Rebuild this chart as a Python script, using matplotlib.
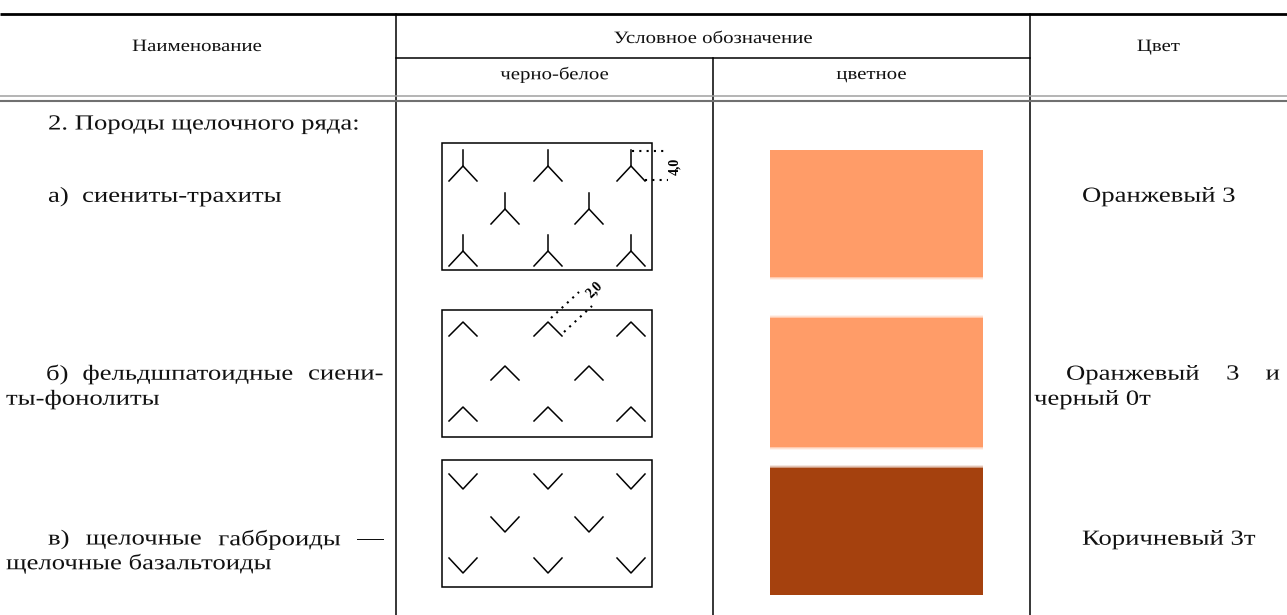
import matplotlib
matplotlib.use("Agg")
import matplotlib.pyplot as plt
from matplotlib.patches import Rectangle
from matplotlib.patheffects import AbstractPathEffect
from matplotlib.transforms import Affine2D

plt.rcParams['font.family'] = ['Liberation Serif', 'DejaVu Serif']

# ---- table content ----
header_name = "Наименование"
header_symbol = "Условное обозначение"
header_bw = "черно-белое"
header_color = "цветное"
header_colour_name = "Цвет"

section_title = "2. Породы щелочного ряда:"
row_names = [
    [["а)  сиениты-трахиты"]],
    [["б)", "фельдшпатоидные", "сиени-"], ["ты-фонолиты"]],
    [["в)", "щелочные", "габброиды", "—"], ["щелочные базальтоиды"]],
]
row_color_names = [
    [["Оранжевый 3"]],
    [["Оранжевый", "3", "и"], ["черный 0т"]],
    [["Коричневый 3т"]],
]
row_fill = ["#FF9C68", "#FF9C68", "#A5410E"]
row_pattern = ["Y", "^", "v"]
dimension_labels = ["4,0", "2,0", None]

# pattern grid (offsets inside a symbol box)
pattern_cols_outer = [21, 106, 189]
pattern_cols_inner = [63, 147]
pattern_row_offsets = {"Y": [23, 66, 108], "^": [12, 56, 97], "v": [14, 57, 98]}

# ---- layout ----
W, H = 1287, 615
fig = plt.figure(figsize=(W / 100, H / 100), dpi=100)
ax = fig.add_axes([0, 0, 1, 1])
ax.set_xlim(0, W)
ax.set_ylim(H, 0)
ax.axis('off')
renderer = fig.canvas.get_renderer()

x_col1, x_col2, x_col3 = 396, 713, 1030
y_top, y_sub, y_dbl1, y_dbl2 = 14, 58, 96, 101
box_left, box_w, box_h = 442, 210, 127
box_tops = [143, 310, 460]
rect_left, rect_w = 770, 213
rect_tops = [150, 318, 468]
rect_hs = [127, 129, 127]
row_text_y = [[197], [375, 400], [540, 564]]
name_x = [[48], [46, 6], [48, 6]]
name_right = [None, 384, 384]
color_x = [[1082], [1066, 1034], [1082]]
color_right = [None, 1280, None]

fs_head, sx_head = 12.5, 1.2
fs_body, sx_body = 15.5, 1.24
tc = '#111111'


class HStretch(AbstractPathEffect):
    """Widen glyphs horizontally about a fixed anchor (scan is wider than tall)."""

    def __init__(self, sx, x_anchor):
        super().__init__()
        self.sx = sx
        self.xa = x_anchor

    def draw_path(self, rend, gc, tpath, affine, rgbFace=None):
        t = affine + Affine2D().translate(-self.xa, 0).scale(self.sx, 1).translate(self.xa, 0)
        rend.draw_path(gc, tpath, t, rgbFace)


def put(x, y, s, size, sx, ha='left'):
    t = ax.text(x, y, s, fontsize=size, ha=ha, va='center', color=tc)
    xa = ax.transData.transform((x, y))[0]
    t.set_path_effects([HStretch(sx, xa)])
    return t


def width_of(s, size, sx):
    t = ax.text(0, 0, s, fontsize=size)
    bb = t.get_window_extent(renderer)
    t.remove()
    return bb.width * sx  # pixels == data units here


ax.plot([0, W], [y_top, y_top], color='black', lw=2.0, solid_capstyle='butt')
ax.plot([x_col1, x_col3], [y_sub, y_sub], color='black', lw=1.1)
ax.plot([x_col1, x_col1], [y_top, H], color='black', lw=1.1)
ax.plot([x_col2, x_col2], [y_sub, H], color='black', lw=1.1)
ax.plot([x_col3, x_col3], [y_top, H], color='black', lw=1.1)
ax.plot([0, W], [y_dbl1, y_dbl1], color='#a0a0a0', lw=1.1)
ax.plot([0, W], [y_dbl2, y_dbl2], color='#707070', lw=1.5)

put(197, 47, header_name, fs_head, sx_head, 'center')
put((x_col1 + x_col3) / 2, 39, header_symbol, fs_head, sx_head, 'center')
put((x_col1 + x_col2) / 2, 75, header_bw, fs_head, sx_head, 'center')
put((x_col2 + x_col3) / 2, 75, header_color, fs_head, sx_head, 'center')
put((x_col3 + W) / 2, 47, header_colour_name, fs_head, sx_head, 'center')

put(48, 125, section_title, fs_body, sx_body)


def text_line(words, x0, x1, y):
    if x1 is None or len(words) == 1:
        put(x0, y, " ".join(words), fs_body, sx_body)
        return
    widths = [width_of(w, fs_body, sx_body) for w in words]
    gap = (x1 - x0 - sum(widths)) / (len(words) - 1)
    x = x0
    for w, wd in zip(words, widths):
        put(x, y, w, fs_body, sx_body)
        x += wd + gap


def draw_symbol(kind, cx, cy):
    if kind == "Y":
        ax.plot([cx, cx], [cy - 16, cy], color='black', lw=1.1)
        ax.plot([cx - 14, cx, cx + 14], [cy + 15, cy, cy + 15], color='black', lw=1.1)
    elif kind == "^":
        ax.plot([cx - 14, cx, cx + 14], [cy + 14, cy, cy + 14], color='black', lw=1.1)
    else:
        ax.plot([cx - 14, cx, cx + 14], [cy, cy + 15, cy], color='black', lw=1.1)


def soft_edge(x, y_edge, w, color, direction):
    for k, a in enumerate([0.55, 0.3, 0.12]):
        yy = y_edge + direction * k
        ax.add_patch(Rectangle((x, yy if direction > 0 else yy - 1), w, 1,
                               fc=color, ec='none', alpha=a))


for i in range(3):
    for j, words in enumerate(row_names[i]):
        text_line(words, name_x[i][j], name_right[i] if j == 0 else None, row_text_y[i][j])
    for j, words in enumerate(row_color_names[i]):
        text_line(words, color_x[i][j], color_right[i] if j == 0 else None, row_text_y[i][j])
    bt = box_tops[i]
    ax.add_patch(Rectangle((box_left, bt), box_w, box_h, fill=False, ec='black', lw=1.1))
    rows = pattern_row_offsets[row_pattern[i]]
    for r, off in enumerate(rows):
        cols = pattern_cols_inner if r == 1 else pattern_cols_outer
        for c in cols:
            draw_symbol(row_pattern[i], box_left + c, bt + off)
    ax.add_patch(Rectangle((rect_left, rect_tops[i]), rect_w, rect_hs[i],
                           fc=row_fill[i], ec='none'))

soft_edge(rect_left, rect_tops[0] + rect_hs[0], rect_w, row_fill[0], 1)
soft_edge(rect_left, rect_tops[1], rect_w, row_fill[1], -1)
soft_edge(rect_left, rect_tops[1] + rect_hs[1], rect_w, row_fill[1], 1)
soft_edge(rect_left, rect_tops[2], rect_w, row_fill[2], -1)

# dimension annotations
dot = (0, (1, 2.5))
cx, cy = box_left + pattern_cols_outer[2], box_tops[0] + pattern_row_offsets["Y"][0]
ax.plot([cx + 1, cx + 37], [cy - 15, cy - 15], color='black', lw=1.5, linestyle=dot)
ax.plot([cx + 14, cx + 37], [cy + 14, cy + 14], color='black', lw=1.5, linestyle=dot)
ax.text(cx + 44, cy, dimension_labels[0], fontsize=10, rotation=90, ha='center',
        va='center', fontweight='bold')
cx, cy = box_left + pattern_cols_outer[1], box_tops[1] + pattern_row_offsets["^"][0]
ax.plot([cx + 3, cx + 31], [cy - 4, cy - 30], color='black', lw=1.5, linestyle=dot)
ax.plot([cx + 16, cx + 44], [cy + 10, cy - 16], color='black', lw=1.5, linestyle=dot)
ax.text(cx + 46, cy - 32, dimension_labels[1], fontsize=10, rotation=45, ha='center',
        va='center', fontweight='bold')

fig.savefig("out.png", dpi=100)
